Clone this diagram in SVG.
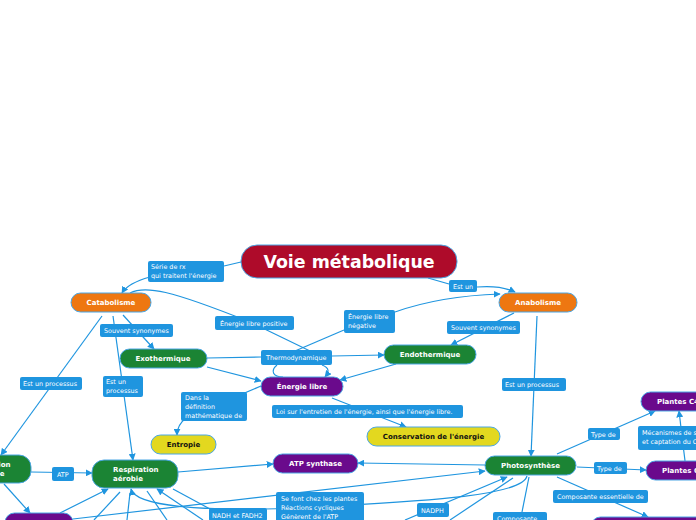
<svg xmlns="http://www.w3.org/2000/svg" width="696" height="520" viewBox="0 0 696 520">
<defs>
<marker id="ar" viewBox="0 0 10 10" refX="9" refY="5" markerWidth="7" markerHeight="7" markerUnits="userSpaceOnUse" orient="auto">
<path d="M0,0 L10,5 L0,10 z" fill="#1f95df"/>
</marker>
<style>
.c{fill:none;stroke:#1f95df;stroke-width:1.2}
.a{marker-end:url(#ar)}
.n{stroke:#4aa6e4;stroke-width:1}
.red{fill:#ae0b2a}.or{fill:#ee7711}.gr{fill:#1b8434}.pu{fill:#6a0a8c}.ye{fill:#e3d81f}
.nt{font-family:"DejaVu Sans",Verdana,sans-serif;font-size:7px;font-weight:bold;fill:#fff;text-anchor:middle}
.nl{font-family:"DejaVu Sans",Verdana,sans-serif;font-size:7px;font-weight:bold;fill:#fff}
.dk{fill:#111}
.lb{fill:#1f95df}
.lt{font-family:"DejaVu Sans",Verdana,sans-serif;font-size:6.4px;fill:#fff}
</style>
</defs>
<rect width="696" height="520" fill="#fff"/>
<g id="connectors">
<path class="c" d="M241,262 L224,266"/>
<path class="c a" d="M150,277 Q128,283 122,293"/>
<path class="c" d="M130,293 C145,285 170,290 250,322 L310,351"/>
<path class="c" d="M295,351 L344,330"/>
<path class="c a" d="M395,312 Q440,296 500,294"/>
<path class="c" d="M428,278 L449,284"/>
<path class="c a" d="M477,287 Q500,285 515,292"/>
<path class="c" d="M207,358 L261,357"/>
<path class="c a" d="M332,356 L384,355"/>
<path class="c a" d="M207,367 L261,381"/>
<path class="c a" d="M396,364 L340,380"/>
<path class="c" d="M277,365 C270,371 273,377 283,377"/>
<path class="c a" d="M322,365 C330,368 329,372 325,377"/>
<path class="c a" d="M123,315 L154,349"/>
<path class="c a" d="M514,313 L451,345"/>
<path class="c a" d="M102,316 L1,455"/>
<path class="c a" d="M113,316 L133,460"/>
<path class="c a" d="M537,316 L531,456"/>
<path class="c a" d="M261,386 L186,418 Q177,425 177,435"/>
<path class="c a" d="M332,398 L406,427"/>
<path class="c a" d="M31,472 L92,473"/>
<path class="c a" d="M178,472 L273,464"/>
<path class="c a" d="M485,465 L358,463"/>
<path class="c a" d="M557,454 L655,411"/>
<path class="c a" d="M577,467 L646,470"/>
<path class="c a" d="M685,461 L679,411"/>
<path class="c a" d="M557,477 L648,517"/>
<path class="c a" d="M4,484 L30,513"/>
<path class="c a" d="M60,513 L108,489"/>
<path class="c a" d="M73,519 L485,471"/>
<path class="c a" d="M527,476 C522,498 400,502 300,508 C200,512 135,506 131,489"/>
<path class="c" d="M173,489 L210,509"/>
<path class="c" d="M120,492 L94,520"/>
<path class="c" d="M127,520 L130,493"/>
<path class="c" d="M147,491 L167,520"/>
<path class="c a" d="M203,520 L157,489"/>
<path class="c a" d="M405,520 L507,477"/>
<path class="c" d="M450,520 L513,478"/>
<path class="c" d="M529,477 L522,512"/>
</g>
<g id="labels">
<g id="l1"><rect class="lb" x="148" y="261" width="76" height="21" rx="2"/><text class="lt" x="151" y="269">Série de rx</text><text class="lt" x="151" y="278">qui traitent l'énergie</text></g>
<g id="l2"><rect class="lb" x="449" y="280" width="28" height="12" rx="2"/><text class="lt" x="453" y="289">Est un</text></g>
<g id="l3"><rect class="lb" x="215" y="316" width="79" height="14" rx="2"/><text class="lt" x="220" y="326">Énergie libre positive</text></g>
<g id="l4"><rect class="lb" x="344" y="310" width="51" height="23" rx="2"/><text class="lt" x="348" y="319">Énergie libre</text><text class="lt" x="348" y="328">négative</text></g>
<g id="l5"><rect class="lb" x="100" y="324" width="73" height="13" rx="2"/><text class="lt" x="104" y="333">Souvent synonymes</text></g>
<g id="l6"><rect class="lb" x="447" y="321" width="73" height="13" rx="2"/><text class="lt" x="451" y="330">Souvent synonymes</text></g>
<g id="l7"><rect class="lb" x="261" y="350" width="71" height="15" rx="2"/><text class="lt" x="266" y="360">Thermodynamique</text></g>
<g id="l8"><rect class="lb" x="20" y="377" width="62" height="13" rx="2"/><text class="lt" x="23" y="386">Est un processus</text></g>
<g id="l9"><rect class="lb" x="103" y="376" width="40" height="21" rx="2"/><text class="lt" x="106" y="384">Est un</text><text class="lt" x="106" y="393">processus</text></g>
<g id="l10"><rect class="lb" x="502" y="378" width="64" height="13" rx="2"/><text class="lt" x="505" y="387">Est un processus</text></g>
<g id="l11"><rect class="lb" x="181" y="392" width="66" height="29" rx="2"/><text class="lt" x="185" y="400">Dans la</text><text class="lt" x="185" y="409">définition</text><text class="lt" x="185" y="418">mathématique de</text></g>
<g id="l12"><rect class="lb" x="272" y="405" width="191" height="13" rx="2"/><text class="lt" x="276" y="414">Loi sur l'entretien de l'énergie, ainsi que l'énergie libre.</text></g>
<g id="l13"><rect class="lb" x="52" y="467" width="22" height="14" rx="2"/><text class="lt" x="57" y="477">ATP</text></g>
<g id="l14"><rect class="lb" x="588" y="428" width="32" height="12" rx="2"/><text class="lt" x="591" y="437">Type de</text></g>
<g id="l15"><rect class="lb" x="638" y="426" width="70" height="24" rx="2"/><text class="lt" x="642" y="435">Mécanismes de s</text><text class="lt" x="642" y="444">et captation du C</text></g>
<g id="l16"><rect class="lb" x="594" y="462" width="33" height="12" rx="2"/><text class="lt" x="597" y="471">Type de</text></g>
<g id="l17"><rect class="lb" x="553" y="490" width="95" height="13" rx="2"/><text class="lt" x="557" y="499">Composante essentielle de</text></g>
<g id="l18"><rect class="lb" x="209" y="508" width="58" height="13" rx="2"/><text class="lt" x="212" y="518">NADH et FADH2</text></g>
<g id="l19"><rect class="lb" x="276" y="492" width="88" height="32" rx="2"/><text class="lt" x="281" y="501">Se font chez les plantes</text><text class="lt" x="281" y="510">Réactions cycliques</text><text class="lt" x="281" y="519">Génèrent de l'ATP</text></g>
<g id="l20"><rect class="lb" x="417" y="503" width="32" height="14" rx="2"/><text class="lt" x="421" y="513">NADPH</text></g>
<g id="l21"><rect class="lb" x="493" y="512" width="54" height="12" rx="2"/><text class="lt" x="497" y="521">Composante</text></g>
</g>
<g id="title"><rect class="n red" x="241" y="245" width="216" height="33" rx="16"/><text x="349" y="268" font-family="DejaVu Sans, Verdana, sans-serif" font-size="17.4" font-weight="bold" fill="#fff" text-anchor="middle">Voie métabolique</text></g>
<g id="catabolisme"><rect class="n or" x="71" y="293" width="80" height="19" rx="9.5"/><text class="nt" x="111" y="305">Catabolisme</text></g>
<g id="anabolisme"><rect class="n or" x="499" y="293" width="78" height="19" rx="9.5"/><text class="nt" x="538" y="305">Anabolisme</text></g>
<g id="exothermique"><rect class="n gr" x="120" y="349" width="87" height="19" rx="9.5"/><text class="nt" x="163" y="361">Exothermique</text></g>
<g id="endothermique"><rect class="n gr" x="384" y="345" width="92" height="19" rx="9.5"/><text class="nt" x="430" y="357">Endothermique</text></g>
<g id="energie-libre"><rect class="n pu" x="261" y="377" width="82" height="19" rx="9.5"/><text class="nt" x="302" y="389">Énergie libre</text></g>
<g id="entropie"><rect class="n ye" x="151" y="435" width="65" height="19" rx="9.5"/><text class="nt dk" x="183.5" y="447">Entropie</text></g>
<g id="conservation"><rect class="n ye" x="367" y="427" width="133" height="19" rx="9.5"/><text class="nt dk" x="433.5" y="439">Conservation de l'énergie</text></g>
<g id="atp-synthase"><rect class="n pu" x="273" y="454" width="85" height="19" rx="9.5"/><text class="nt" x="315.5" y="466">ATP synthase</text></g>
<g id="photosynthese"><rect class="n gr" x="485" y="456" width="91" height="19" rx="9.5"/><text class="nt" x="530.5" y="468">Photosynthèse</text></g>
<g id="respiration-aerobie"><rect class="n gr" x="92" y="460" width="86" height="28" rx="12"/><text class="nl" x="113" y="472">Respiration</text><text class="nl" x="113" y="481">aérobie</text></g>
<g id="respiration-anaerobie"><rect class="n gr" x="-56" y="455" width="87" height="28" rx="12"/><text class="nl" x="-35" y="467">Respiration</text><text class="nl" x="-35" y="476">anaérobie</text></g>
<g id="plantes-c4"><rect class="n pu" x="641" y="392" width="80" height="19" rx="9.5"/><text class="nl" x="657" y="404">Plantes C4</text></g>
<g id="plantes-c3"><rect class="n pu" x="646" y="461" width="80" height="19" rx="9.5"/><text class="nl" x="662" y="473">Plantes C3</text></g>
<g id="node-bl"><rect class="n pu" x="5" y="513" width="68" height="20" rx="9.5"/></g>
<g id="node-br"><rect class="n pu" x="591" y="517" width="120" height="20" rx="9.5"/></g>
</svg>
